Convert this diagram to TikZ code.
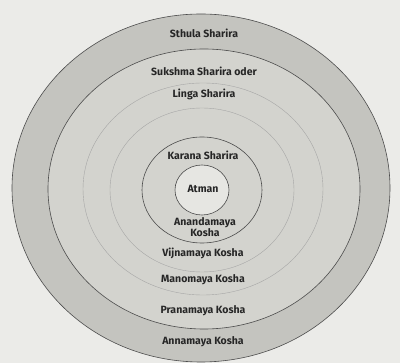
\documentclass[tikz,border=0pt]{standalone}
\usepackage{fontspec}
\setsansfont{Fira Sans}
\usepackage{tikz}
\usetikzlibrary{positioning}
\definecolor{paper}{HTML}{EBEBE8}
\definecolor{ringdark}{HTML}{C4C4BF}
\definecolor{ringlight}{HTML}{D3D3CE}
\definecolor{core}{HTML}{E6E6E2}
\tikzset{shell/.style = {draw=black!70, line width=0.6pt},
         faint/.style = {draw=black!35, line width=0.4pt},
         lbl/.style = {font=\sffamily\bfseries\fontsize{10.5}{10.5}\selectfont, text=black!85,
                       inner sep=0pt, align=center}}

\begin{document}
\begin{tikzpicture}[x=1pt, y=-1pt]
      \useasboundingbox (0, 0) rectangle (400, 363);
      \fill [paper] (0, 0) rectangle (400, 363);
      \draw [shell, fill=ringdark] (201, 188) ellipse [x radius=189, y radius=174];
      \draw [shell, fill=ringlight] (204, 189) ellipse [x radius=156, y radius=140];
      \draw [faint] (203, 189) ellipse [x radius=120, y radius=106];
      \draw [faint] (202, 190) ellipse [x radius=92, y radius=82];
      \draw [shell] (202, 190) ellipse [x radius=60, y radius=53];
      \draw [shell, fill=core] (202, 190) ellipse [x radius=27, y radius=25];
      \node [lbl] (sthula) at (204, 33) {Sthula Sharira};
      \node [lbl] (sukshma) at (204, 71) {Sukshma Sharira oder};
      \node [lbl] (linga) at (204, 94) {Linga Sharira};
      \node [lbl] (karana) at (203, 155) {Karana Sharira};
      \node [lbl] (atman) at (203, 189) {Atman};
      \node [lbl] (ananda) at (205, 227) {Anandamaya\\Kosha};
      \node [lbl] (vijnana) at (203, 253) {Vijnamaya Kosha};
      \node [lbl] (mano) at (203, 280) {Manomaya Kosha};
      \node [lbl] (prana) at (203, 311) {Pranamaya Kosha};
      \node [lbl] (anna) at (203, 342) {Annamaya Kosha};
    \end{tikzpicture}
\end{document}
